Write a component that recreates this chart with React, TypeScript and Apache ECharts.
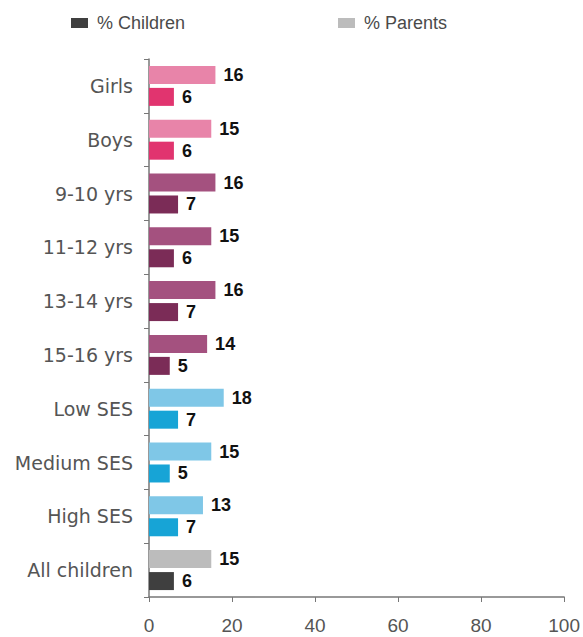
import React, { useEffect, useRef } from "react";
import * as echarts from "echarts";

const categories = ["Girls", "Boys", "9-10 yrs", "11-12 yrs", "13-14 yrs", "15-16 yrs", "Low SES", "Medium SES", "High SES", "All children"];
const parentsValues = [16, 15, 16, 15, 16, 14, 18, 15, 13, 15];
const childrenValues = [6, 6, 7, 6, 7, 5, 7, 5, 7, 6];
const parentColors = ["#e884a9", "#e884a9", "#a4517f", "#a4517f", "#a4517f", "#a4517f", "#7fc7e7", "#7fc7e7", "#7fc7e7", "#bcbcbc"];
const childColors = ["#e1346f", "#e1346f", "#7b2c57", "#7b2c57", "#7b2c57", "#7b2c57", "#17a4d6", "#17a4d6", "#17a4d6", "#3f3f3f"];
const xTicks = { min: 0, max: 100, interval: 20 };

export default function App() {
  const ref = useRef<HTMLDivElement>(null);
  useEffect(() => {
    document.body.style.margin = "0";
    const chart = echarts.init(ref.current!, null, { renderer: "svg" });
    const font = "'Liberation Sans', Arial, sans-serif";
    const wideFont = "'DejaVu Sans', sans-serif";
    const label = {
      show: true,
      position: "right",
      distance: 8,
      color: "#111",
      fontWeight: "bold",
      fontSize: 18,
      fontFamily: font,
    };
    const legendText = { fontSize: 18, color: "#4a4a4a", fontFamily: font, padding: [0, 0, 0, 4] };
    chart.setOption({
      animation: false,
      textStyle: { fontFamily: font },
      legend: [
        {
          data: ["% Children"],
          left: 71,
          top: 14,
          padding: 0,
          icon: "rect",
          itemWidth: 17,
          itemHeight: 10,
          textStyle: legendText,
        },
        {
          data: ["% Parents"],
          left: 338,
          top: 14,
          padding: 0,
          icon: "rect",
          itemWidth: 17,
          itemHeight: 10,
          textStyle: legendText,
        },
      ],
      grid: { left: 149, right: 18, top: 59, bottom: 40, containLabel: false },
      xAxis: {
        type: "value",
        min: xTicks.min,
        max: xTicks.max,
        interval: xTicks.interval,
        axisLine: { show: true, lineStyle: { color: "#777", width: 1.5 } },
        axisTick: { show: true, length: 5, lineStyle: { color: "#777" } },
        splitLine: { show: false },
        axisLabel: { fontSize: 19, color: "#555", margin: 19, fontFamily: font },
      },
      yAxis: {
        type: "category",
        data: categories,
        inverse: true,
        axisLine: { show: true, lineStyle: { color: "#777", width: 1.5 } },
        axisTick: { show: true, length: 5, lineStyle: { color: "#777" } },
        axisLabel: { fontSize: 19, color: "#555", margin: 16, fontFamily: wideFont },
      },
      series: [
        {
          name: "% Parents",
          type: "bar",
          barWidth: 18,
          barGap: "22%",
          itemStyle: { color: "#bcbcbc" },
          label,
          data: parentsValues.map((v, i) => ({ value: v, itemStyle: { color: parentColors[i] } })),
        },
        {
          name: "% Children",
          type: "bar",
          barWidth: 18,
          barGap: "22%",
          itemStyle: { color: "#3f3f3f" },
          label,
          data: childrenValues.map((v, i) => ({ value: v, itemStyle: { color: childColors[i] } })),
        },
      ],
    });
    return () => chart.dispose();
  }, []);
  return <div ref={ref} style={{ width: 583, height: 637 }} />;
}
